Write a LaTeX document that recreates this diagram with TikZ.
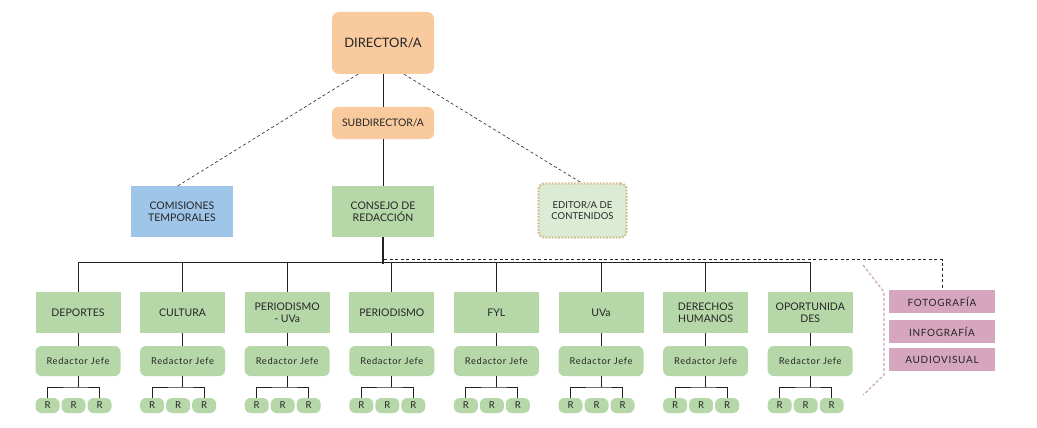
\documentclass[tikz,border=0pt]{standalone}
\usepackage{fontspec}
\setmainfont{Lato}
\newfontfamily\spaced[LetterSpace=7]{Lato}
\definecolor{cpeach}{HTML}{F8CA9E}
\definecolor{cgreen}{HTML}{B6D7A8}
\definecolor{cblue}{HTML}{9FC5E8}
\definecolor{cpink}{HTML}{D5A6BD}
\definecolor{clight}{HTML}{DCEBD4}
\definecolor{ctan}{HTML}{D6BC8E}
\definecolor{cbrack}{HTML}{C8A6B7}
\definecolor{cline}{HTML}{222222}
\begin{document}
\begin{tikzpicture}[x=1pt,y=-1pt,
  solid line/.style={draw=cline, line width=0.9pt},
  dline/.style={draw=cline, line width=0.6pt, dash pattern=on 3pt off 2.5pt},
  topbox/.style={fill=cpeach, rounded corners=7pt, minimum width=102pt, align=center, text=black!85},
  box/.style={fill=cgreen, minimum width=85pt, minimum height=41pt, align=center, inner sep=1pt, font=\fontsize{10.5}{12.5}\selectfont, text=black!85},
  rjbox/.style={fill=cgreen, rounded corners=6pt, minimum width=85pt, minimum height=30pt, font=\spaced\fontsize{9.3}{10}\selectfont, text=black!85},
  rbox/.style={fill=cgreen, rounded corners=6pt, minimum width=24pt, minimum height=15pt, inner sep=0pt, font=\fontsize{9.5}{10}\selectfont, text=black!85},
  pbox/.style={fill=cpink, minimum width=106pt, minimum height=23pt, inner sep=0pt, font=\spaced\fontsize{10}{11}\selectfont, text=black!85}
]
\useasboundingbox (0,0) rectangle (1037,428);
\fill[white] (0,0) rectangle (1037,428);

% top level
\node[topbox, minimum height=62pt, font=\fontsize{13}{14}\selectfont] (dir) at (383,43) {DIRECTOR/A};
\node[topbox, minimum height=32pt, rounded corners=6pt, font=\fontsize{10.4}{12}\selectfont] (sub) at (383,123) {SUBDIRECTOR/A};
\node[fill=cgreen, minimum width=102pt, minimum height=51pt, align=center, font=\fontsize{10.5}{12.5}\selectfont, text=black!85] (cons) at (383,211.5) {CONSEJO DE\\REDACCIÓN};
\node[fill=cblue, minimum width=102pt, minimum height=51pt, align=center, font=\fontsize{10.5}{12.5}\selectfont, text=black!85] (com) at (182,211.5) {COMISIONES\\TEMPORALES};
\node[fill=clight, draw=ctan, line width=2.4pt, dash pattern=on 1.6pt off 1.6pt, rounded corners=6pt, minimum width=88pt, minimum height=54pt, align=center, font=\fontsize{9.5}{11.5}\selectfont, text=black!85] (ed) at (582.5,210.5) {EDITOR/A DE\\CONTENIDOS};

\draw[solid line] (dir.south) -- (sub.north);
\draw[solid line] (sub.south) -- (cons.north);
\draw[dline] ([xshift=-25pt]dir.south) -- ([xshift=-4pt]com.north);
\draw[dline] ([xshift=21pt]dir.south) -- ([xshift=-2pt]ed.north);

% bus
\coordinate (busL) at (78,262);
\coordinate (busR) at (810.4,262);
\coordinate (bus0) at (383,264);
\draw[draw=cline, line width=1.5pt] (cons.south) -- (bus0);
\draw[solid line] (busL) -- (busR);

% pink boxes
\node[pbox] (foto) at (942,301.5) {FOTOGRAFÍA};
\node[pbox] (info) at (942,331.5) {INFOGRAFÍA};
\node[pbox] (audio) at (942,359.5) {AUDIOVISUAL};
\coordinate (dA) at (384,259.5);
\coordinate (dB) at (942,259.5);
\draw[dline] (dA) -- (dB) -- (foto.north);
\draw[draw=cbrack, line width=1.2pt, dash pattern=on 3pt off 2pt] (863,265) -- (884,292) -- (884,375) -- (863,395);

% columns
\foreach \i/\t in {1/DEPORTES, 2/CULTURA, 3/{PERIODISMO\\- UVa}, 4/PERIODISMO, 5/FYL, 6/UVa, 7/{DERECHOS\\HUMANOS}, 8/{OPORTUNIDA\\DES}} {
  \pgfmathsetmacro\cx{78+(\i-1)*104.6}
  \node[box] (b\i) at (\cx,312.5) {\t};
  \node[rjbox] (rj\i) at (\cx,361) {Redactor Jefe};
  \node[rbox] (ra\i) at (\cx-30.5,405.5) {R};
  \node[rbox] (rb\i) at (\cx-4.5,405.5) {R};
  \node[rbox] (rc\i) at (\cx+21.5,405.5) {R};
  \coordinate (k\i) at (\cx,387);
  \draw[solid line] (b\i.north) -- (b\i.north |- busL);
  \draw[solid line] (b\i.south) -- (rj\i.north);
  \draw[solid line] (rj\i.south) -- (k\i);
  \draw[solid line] (ra\i.north) |- (k\i) -| (rc\i.north);
}
\end{tikzpicture}
\end{document}
